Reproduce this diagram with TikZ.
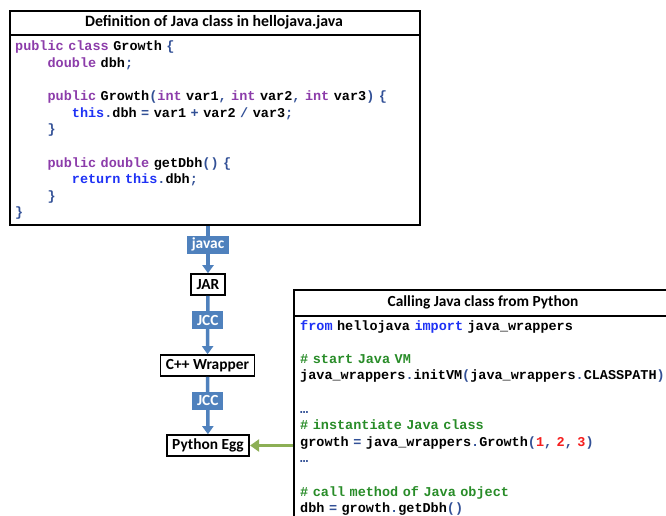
\documentclass[tikz,border=0pt]{standalone}
\usepackage{fontspec}
\setmainfont{Carlito}
\newfontfamily\codefam[BoldFont={Liberation Mono Bold}]{Liberation Mono}
\usetikzlibrary{arrows.meta}

\definecolor{kwpurple}{RGB}{140,60,170}
\definecolor{kwblue}{RGB}{30,50,245}
\definecolor{punctblue}{RGB}{50,80,150}
\definecolor{cmtgreen}{RGB}{40,140,40}
\definecolor{numred}{RGB}{245,30,30}
\definecolor{flowblue}{RGB}{79,129,189}
\definecolor{callgreen}{RGB}{140,175,85}

% syntax colouring
\newcommand\kwp[1]{\textcolor{kwpurple}{#1}}
\newcommand\kwb[1]{\textcolor{kwblue}{#1}}
\newcommand\pn[1]{\textcolor{punctblue}{#1}}
\newcommand\cmt[1]{\textcolor{cmtgreen}{#1}}
\newcommand\numr[1]{\textcolor{numred}{#1}}
\newcommand\tab{\hphantom{xxxx}}
\newcommand\tabb{\hphantom{xxxxxxx}}
\newcommand\codefont{\codefam\bfseries\fontsize{13.5}{16.6}\selectfont}
\newcommand\labelfont{\bfseries\fontsize{15.4}{17}\selectfont}

\tikzset{
  boxframe/.style={draw, line width=1.8pt, inner sep=0pt, anchor=north west},
  boxtitle/.style={font=\labelfont},
  codetext/.style={font=\codefont, text width=400pt, align=left, inner sep=0pt, anchor=base west},
  stage/.style={draw, line width=1.6pt, fill=white, font=\labelfont, minimum height=21pt, inner xsep=5.5pt, inner ysep=0pt},
  tool/.style={fill=flowblue, text=white, font=\labelfont, minimum height=18pt, inner xsep=5pt, inner ysep=0pt},
  flow/.style={draw=flowblue, line width=3.5pt, -{Triangle[width=11pt,length=8pt]}},
  call/.style={draw=callgreen, line width=3.5pt, -{Triangle[width=12pt,length=9pt]}}
}

\begin{document}
\begin{tikzpicture}[x=1pt, y=-1pt]
\clip (0,0) rectangle (666,516);

% java source
\node[boxframe, minimum width=410pt, minimum height=214pt] (jbox) at (9,10) {};
\coordinate (jsep) at (0,35);
\draw[line width=1.8pt] (jbox.west |- jsep) -- (jbox.east |- jsep);
\node[boxtitle, font=\bfseries\fontsize{15.8}{17}\selectfont] (jtitle) at (214,22.5) {Definition of Java class in hellojava.java};
\node[codetext] (jcode) at (15,51) {%
\kwp{public class} Growth \pn{\{}\\
\tab\kwp{double} dbh\pn{;}\\
\mbox{}\\
\tab\kwp{public} Growth\pn{(}\kwp{int} var1\pn{,} \kwp{int} var2\pn{,} \kwp{int} var3\pn{)} \pn{\{}\\
\tabb\kwb{this}\pn{.}dbh \pn{=} var1 \pn{+} var2 \pn{/} var3\pn{;}\\
\tab\pn{\}}\\
\mbox{}\\
\tab\kwp{public double} getDbh\pn{()} \pn{\{}\\
\tabb\kwb{return this}\pn{.}dbh\pn{;}\\
\tab\pn{\}}\\
\pn{\}}};

% build chain
\node[stage] (jar) at (208,284.5) {JAR};
\node[stage] (wrap) at (207.5,365.5) {C++ Wrapper};
\node[stage] (egg) at (208,445.5) {Python Egg};

\draw[flow] (jar |- jbox.south) -- node[tool, pos=0.4] (javac) {javac} (jar);
\draw[flow] (jar) -- node[tool, pos=0.42] (jcc1) {JCC} (wrap);
\draw[flow] (wrap) -- node[tool, pos=0.42] (jcc2) {JCC} (egg);

% python usage
\node[boxframe, fill=white, minimum width=380pt, minimum height=260pt] (pybox) at (293,289) {};
\coordinate (psep) at (0,316);
\draw[line width=1.8pt] (pybox.west |- psep) -- (pybox.east |- psep);
\node[boxtitle] (ptitle) at (483,302.5) {Calling Java class from Python};
\node[codetext] (pcode) at (300,330) {%
\kwb{from} hellojava \kwb{import} java\_wrappers\\
\mbox{}\\
\cmt{\# start Java VM}\\
java\_wrappers\pn{.}initVM\pn{(}java\_wrappers\pn{.}CLASSPATH\pn{)}\\
\mbox{}\\
\pn{…}\\
\cmt{\# instantiate Java class}\\
growth \pn{=} java\_wrappers\pn{.}Growth\pn{(}\numr{1}\pn{,} \numr{2}\pn{,} \numr{3}\pn{)}\\
\pn{…}\\
\mbox{}\\
\cmt{\# call method of Java object}\\
dbh \pn{=} growth\pn{.}getDbh\pn{()}};

\draw[call] (pybox.west |- egg) -- (egg);
\end{tikzpicture}
\end{document}
